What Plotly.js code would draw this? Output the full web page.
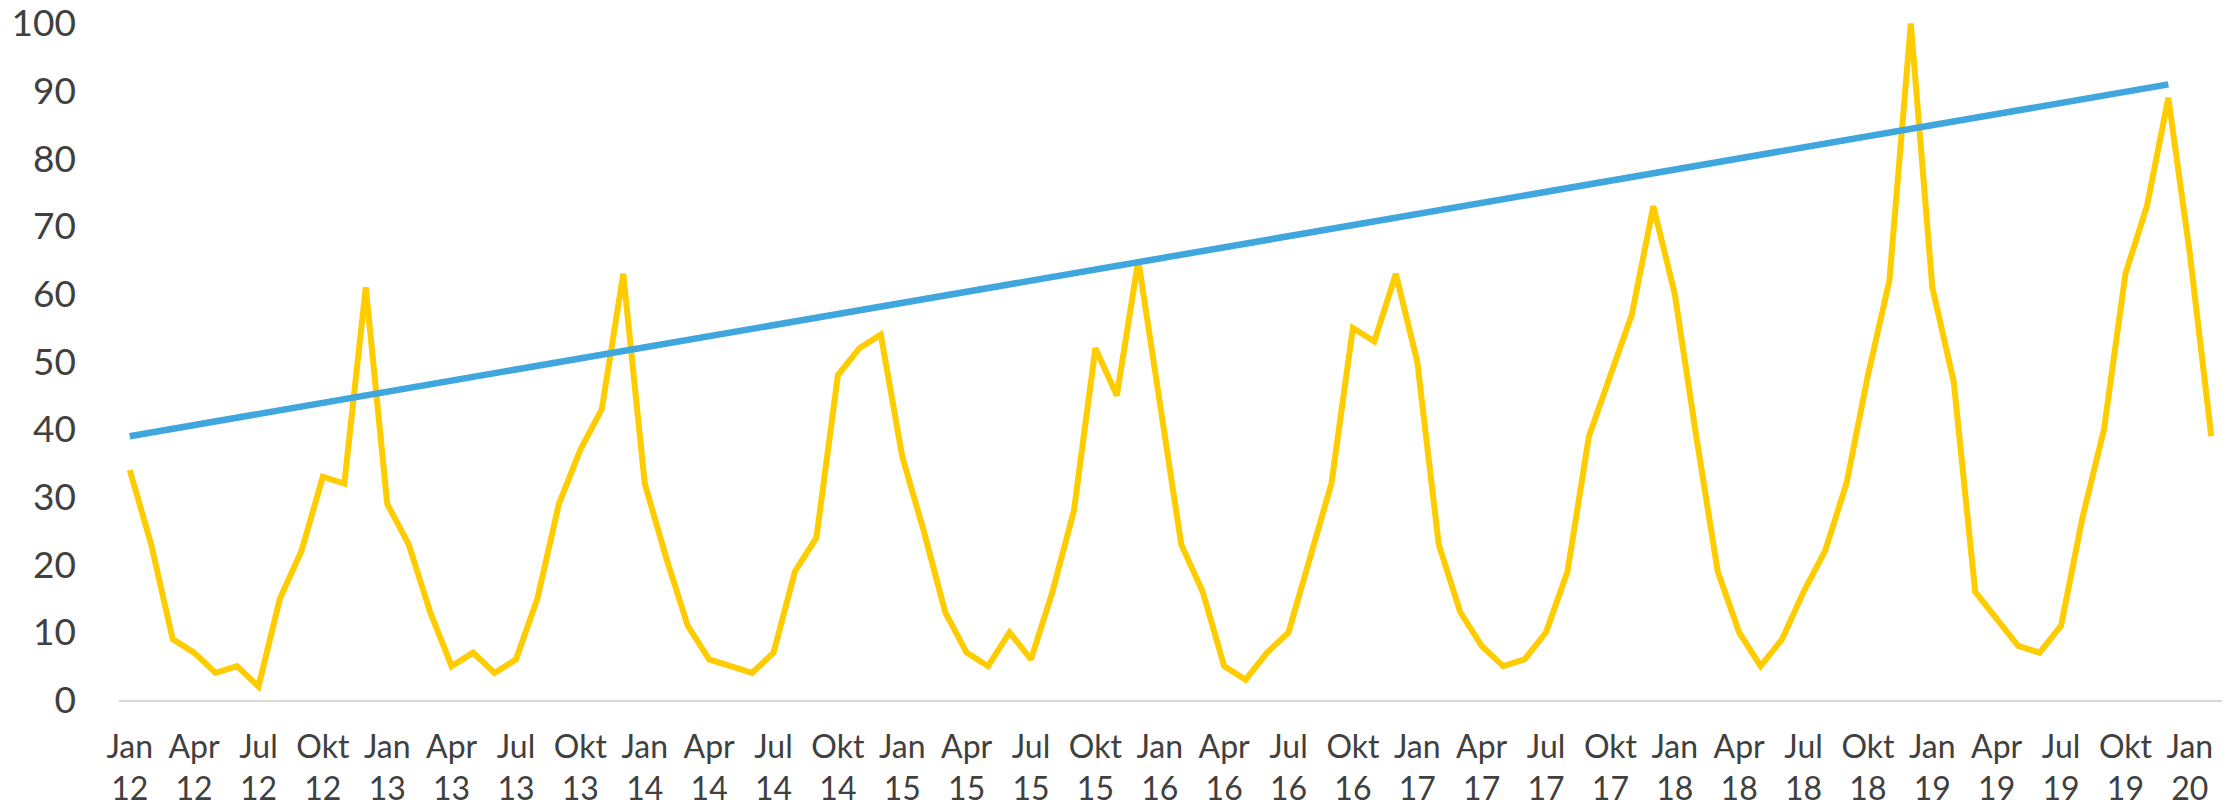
<!DOCTYPE html>
<html>
<head>
<meta charset="utf-8">
<script src="https://cdn.plot.ly/plotly-3.0.1.min.js"></script>
<style>
  html, body { margin: 0; padding: 0; background: #fff; }
  #plot { width: 2239px; height: 809px; }
</style>
</head>
<body>
<div id="plot"></div>
<script>
// monthly values, Jan 12 .. Feb 20
var monthNames = ['Jan', 'Feb', 'Mär', 'Apr', 'Mai', 'Jun', 'Jul', 'Aug', 'Sep', 'Okt', 'Nov', 'Dez'];
var years = ['12', '13', '14', '15', '16', '17', '18', '19', '20'];

var values = [
  34, 23, 9, 7, 4, 5, 2, 15, 22, 33, 32, 61,     // 2012
  29, 23, 13, 5, 7, 4, 6, 15, 29, 37, 43, 63,    // 2013
  32, 21, 11, 6, 5, 4, 7, 19, 24, 48, 52, 54,    // 2014
  36, 25, 13, 7, 5, 10, 6, 16, 28, 52, 45, 65,   // 2015
  44, 23, 16, 5, 3, 7, 10, 21, 32, 55, 53, 63,   // 2016
  50, 23, 13, 8, 5, 6, 10, 19, 39, 48, 57, 73,   // 2017
  60, 39, 19, 10, 5, 9, 16, 22, 32, 48, 62, 100, // 2018
  61, 47, 16, 12, 8, 7, 11, 27, 40, 63, 73, 89,  // 2019
  66, 39                                          // 2020
];

// linear trend, Jan 12 .. Dez 19
var trendValues = [39, 91];

// build category labels
var categories = [];
years.forEach(function (y) {
  monthNames.forEach(function (m) {
    if (categories.length < values.length) categories.push(m + ' ' + y);
  });
});

var tickCats = [];
var tickText = [];
categories.forEach(function (c, i) {
  if (i % 3 === 0) {
    tickCats.push(c);
    tickText.push(c.replace(' ', '<br>'));
  }
});

var series = {
  x: categories,
  y: values,
  type: 'scatter',
  mode: 'lines',
  line: { color: '#FFCC00', width: 6 },
  hoverinfo: 'skip'
};

var trend = {
  x: [categories[0], categories[95]],
  y: trendValues,
  type: 'scatter',
  mode: 'lines',
  line: { color: '#3FA6DE', width: 6.5 },
  hoverinfo: 'skip'
};

var layout = {
  width: 2239,
  height: 809,
  margin: { l: 119, r: 17, t: 10, b: 109 },
  paper_bgcolor: '#ffffff',
  plot_bgcolor: '#ffffff',
  showlegend: false,
  font: { family: 'Lato, "Open Sans", sans-serif', color: '#404040' },
  xaxis: {
    type: 'category',
    categoryorder: 'array',
    categoryarray: categories,
    range: [-0.5, values.length - 0.5],
    tickvals: tickCats,
    ticktext: tickText,
    tickangle: 0,
    ticks: '',
    showgrid: false,
    zeroline: false,
    showline: true,
    linecolor: '#d9d9d9',
    linewidth: 2,
    ticklabelstandoff: 18,
    ticklabeloverflow: 'allow',
    tickfont: { size: 32, color: '#404040' }
  },
  yaxis: {
    range: [0, 102],
    tickvals: [0, 10, 20, 30, 40, 50, 60, 70, 80, 90, 100],
    ticks: '',
    showgrid: false,
    zeroline: false,
    showline: false,
    ticklabelstandoff: 42,
    ticklabeloverflow: 'allow',
    tickfont: { size: 37, color: '#404040' }
  }
};

Plotly.newPlot('plot', [series, trend], layout, { staticPlot: true });
</script>
</body>
</html>
